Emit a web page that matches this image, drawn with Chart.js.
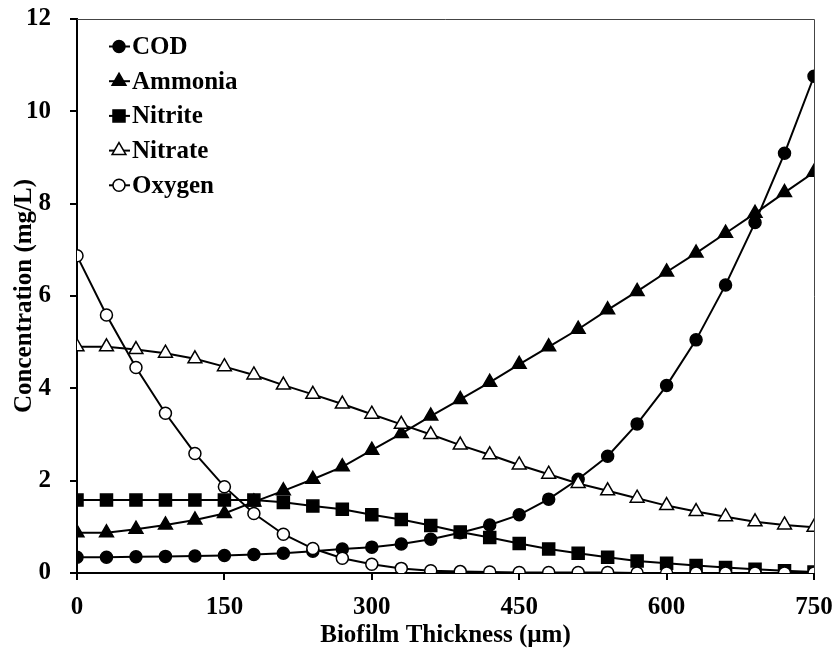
<!DOCTYPE html>
<html>
<head>
<meta charset="utf-8">
<script src="https://cdn.jsdelivr.net/npm/chart.js@4.4.0/dist/chart.umd.min.js"></script>
<style>
  body { margin: 0; background: #fff; }
  #wrap { width: 839px; height: 652px; }
</style>
</head>
<body>
<div id="wrap"><canvas id="chart" width="839" height="652"></canvas></div>
<script>
// biofilm depth (µm)
const thickness = [0, 30, 60, 90, 120, 150, 180, 210, 240, 270, 300, 330, 360, 390,
  420, 450, 480, 510, 540, 570, 600, 630, 660, 690, 720, 750];

const cod = [0.34, 0.34, 0.35, 0.36, 0.37, 0.38, 0.40, 0.43, 0.47, 0.52, 0.56, 0.63, 0.73, 0.87,
  1.04, 1.26, 1.60, 2.03, 2.53, 3.23, 4.06, 5.05, 6.24, 7.59, 9.09, 10.76];
const ammonia = [0.87, 0.87, 0.95, 1.04, 1.15, 1.29, 1.54, 1.78, 2.03, 2.30, 2.66, 3.02, 3.40, 3.76,
  4.13, 4.52, 4.90, 5.28, 5.70, 6.10, 6.52, 6.93, 7.36, 7.79, 8.24, 8.68];
const nitrite = [1.58, 1.58, 1.58, 1.58, 1.58, 1.58, 1.58, 1.53, 1.45, 1.38, 1.26, 1.16, 1.03, 0.89,
  0.77, 0.64, 0.52, 0.43, 0.34, 0.26, 0.21, 0.16, 0.12, 0.08, 0.05, 0.02];
const nitrate = [4.90, 4.90, 4.84, 4.76, 4.64, 4.47, 4.29, 4.07, 3.87, 3.66, 3.44, 3.22, 3.00, 2.77,
  2.56, 2.34, 2.14, 1.94, 1.78, 1.62, 1.46, 1.33, 1.22, 1.11, 1.04, 0.99];
const oxygen = [6.87, 5.59, 4.45, 3.46, 2.59, 1.87, 1.29, 0.84, 0.53, 0.32, 0.19, 0.10, 0.05, 0.03,
  0.02, 0.01, 0.01, 0.01, 0.01, 0.00, 0.00, 0.00, 0.00, 0.00, 0.00, 0.00];

const xTicks = [0, 150, 300, 450, 600, 750];
const yTicks = [0, 2, 4, 6, 8, 10, 12];

const FONT = "'Liberation Serif', 'Times New Roman', serif";

function pts(vals) {
  return thickness.map((t, i) => ({x: t, y: vals[i]}));
}

function series(label, vals, style, fill, radius, order) {
  return {
    label: label,
    data: pts(vals),
    borderColor: '#000',
    borderWidth: 2,
    pointStyle: style,
    pointRadius: radius,
    pointBackgroundColor: fill,
    pointBorderColor: '#000',
    pointBorderWidth: 1.5,
    tension: 0,
    order: order
  };
}

// box lines on top and right + legend inside plot
const frame = {
  id: 'frame',
  beforeDatasetsDraw(chart) {
    const ctx = chart.ctx, a = chart.chartArea;
    ctx.save();
    ctx.strokeStyle = '#444';
    ctx.lineWidth = 1;
    ctx.beginPath();
    ctx.moveTo(a.left, a.top + 0.5);
    ctx.lineTo(a.right + 0.5, a.top + 0.5);
    ctx.lineTo(a.right + 0.5, a.bottom);
    ctx.stroke();
    ctx.restore();
  },
  afterDraw(chart) {
    const ctx = chart.ctx;
    const x0 = 109, y0 = 46.5, step = 34.7;
    ctx.save();
    chart.data.datasets.forEach((ds, i) => {
      const y = y0 + i * step;
      ctx.strokeStyle = '#000';
      ctx.lineWidth = 2;
      ctx.beginPath();
      ctx.moveTo(x0, y);
      ctx.lineTo(x0 + 21, y);
      ctx.stroke();
      ctx.fillStyle = ds.pointBackgroundColor;
      ctx.strokeStyle = '#000';
      ctx.lineWidth = 1.5;
      Chart.helpers.drawPoint(ctx, {pointStyle: ds.pointStyle, radius: ds.pointRadius, borderWidth: 1.5}, x0 + 10, y);
      ctx.fillStyle = '#000';
      ctx.font = 'bold 25px ' + FONT;
      ctx.textBaseline = 'middle';
      ctx.textAlign = 'left';
      ctx.fillText(ds.label, x0 + 23, y + 1);
    });
    ctx.restore();
  }
};

new Chart(document.getElementById('chart'), {
  type: 'line',
  data: {
    datasets: [
      series('COD', cod, 'circle', '#000', 6, 2),
      series('Ammonia', ammonia, 'triangle', '#000', 8, 3),
      series('Nitrite', nitrite, 'rect', '#000', 8.5, 4),
      series('Nitrate', nitrate, 'triangle', '#fff', 8, 1),
      series('Oxygen', oxygen, 'circle', '#fff', 6, 0)
    ]
  },
  options: {
    responsive: false,
    animation: false,
    layout: { padding: { top: 19, right: 25, left: 0, bottom: 0 } },
    plugins: { legend: { display: false }, tooltip: { enabled: false } },
    scales: {
      x: {
        type: 'linear',
        min: 0, max: 750,
        afterFit(s) { s.height = 79; s.paddingLeft = 0; s.paddingRight = 0; },
        afterBuildTicks(s) { s.ticks = xTicks.map(v => ({value: v})); },
        border: { display: true, color: '#000', width: 2 },
        grid: { display: true, drawOnChartArea: false, drawTicks: true, tickLength: 7, tickColor: '#000', lineWidth: 2 },
        ticks: { color: '#000', padding: 13, maxRotation: 0, font: { family: FONT, size: 25, weight: 'bold' } },
        title: { display: true, text: 'Biofilm Thickness (µm)', color: '#000', padding: { top: 0, bottom: 1 },
          font: { family: FONT, size: 25, weight: 'bold' } }
      },
      y: {
        min: 0, max: 12,
        afterFit(s) { s.width = 77; s.paddingTop = 0; s.paddingBottom = 0; },
        afterBuildTicks(s) { s.ticks = yTicks.map(v => ({value: v})); },
        border: { display: true, color: '#000', width: 2 },
        grid: { display: true, drawOnChartArea: false, drawTicks: true, tickLength: 7, tickColor: '#000', lineWidth: 2 },
        ticks: { color: '#000', padding: 19, font: { family: FONT, size: 25, weight: 'bold' } },
        title: { display: true, text: 'Concentration (mg/L)', color: '#000', padding: { top: 10, bottom: 0 },
          font: { family: FONT, size: 25, weight: 'bold' } }
      }
    }
  },
  plugins: [frame]
});
</script>
</body>
</html>
